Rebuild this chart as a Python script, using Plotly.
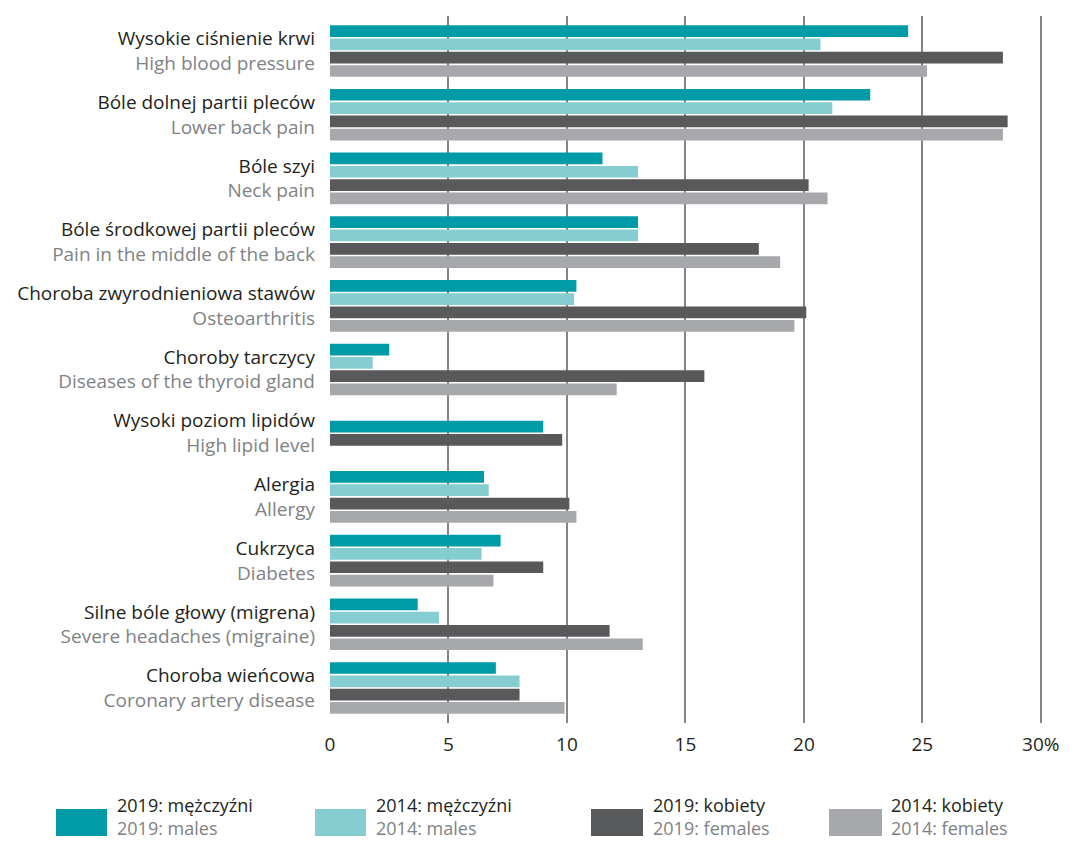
import plotly.graph_objects as go

cats_pl = ["Wysokie ciśnienie krwi", "Bóle dolnej partii pleców", "Bóle szyi",
           "Bóle środkowej partii pleców", "Choroba zwyrodnieniowa stawów",
           "Choroby tarczycy", "Wysoki poziom lipidów", "Alergia", "Cukrzyca",
           "Silne bóle głowy (migrena)", "Choroba wieńcowa"]
cats_en = ["High blood pressure", "Lower back pain", "Neck pain",
           "Pain in the middle of the back", "Osteoarthritis",
           "Diseases of the thyroid gland", "High lipid level", "Allergy",
           "Diabetes", "Severe headaches (migraine)", "Coronary artery disease"]

m2019 = [24.4, 22.8, 11.5, 13.0, 10.4, 2.5, 9.0, 6.5, 7.2, 3.7, 7.0]
m2014 = [20.7, 21.2, 13.0, 13.0, 10.3, 1.8, None, 6.7, 6.4, 4.6, 8.0]
f2019 = [28.4, 28.6, 20.2, 18.1, 20.1, 15.8, 9.8, 10.1, 9.0, 11.8, 8.0]
f2014 = [25.2, 28.4, 21.0, 19.0, 19.6, 12.1, None, 10.4, 6.9, 13.2, 9.9]

series_pl = ["2019: mężczyźni", "2014: mężczyźni", "2019: kobiety", "2014: kobiety"]
series_en = ["2019: males", "2014: males", "2019: females", "2014: females"]
colors = ["#009ba6", "#86cdd2", "#58595b", "#a7a8ab"]

x_ticks = [0, 5, 10, 15, 20, 25, 30]
x_ticktext = ["0", "5", "10", "15", "20", "25", "30%"]

DARK = "#231f20"
GREY = "#808285"
FONT = "Open Sans"
FS = 19

series = [m2019, m2014, f2019, f2014]
idx = list(range(len(cats_pl)))

SLOT = 0.209
BARW = 0.184

fig = go.Figure()
for s, vals in enumerate(series):
    ys, xs, offs = [], [], []
    for i in idx:
        present = [k for k in range(4) if series[k][i] is not None]
        if vals[i] is None:
            continue
        pos = present.index(s)
        n = len(present)
        offs.append((-n / 2 + pos) * SLOT + (SLOT - BARW) / 2)
        ys.append(i)
        xs.append(vals[i])
    fig.add_trace(go.Bar(
        x=xs, y=ys, orientation="h", marker=dict(color=colors[s], line=dict(width=0)),
        width=BARW, offset=offs, name=series_pl[s], showlegend=False,
    ))

ticktext = [f"<span style='color:{DARK}'>{p}</span><br><span style='color:{GREY}'>{e}</span>"
            for p, e in zip(cats_pl, cats_en)]

L, R, T, B = 330, 31, 16, 119
W, H = 1073, 842
pw, ph = W - L - R, H - T - B

def px(xp):
    return (xp - L) / pw

def py(yp):
    return (H - B - yp) / ph

fig.update_layout(
    width=W, height=H, barmode="overlay",
    margin=dict(l=L, r=R, t=T, b=B),
    paper_bgcolor="white", plot_bgcolor="white",
    font=dict(family=FONT, size=FS, color=DARK),
    xaxis=dict(range=[0, 30.05], tickvals=x_ticks, ticktext=x_ticktext,
               showgrid=True, gridcolor="#858585", gridwidth=1.6,
               zeroline=False, showline=False, ticks="",
               ticklabelstandoff=8,
               tickfont=dict(size=FS, color=DARK)),
    yaxis=dict(range=[10.55, -0.55], tickvals=idx, ticktext=ticktext,
               showgrid=False, zeroline=False, showline=False, ticks="",
               ticklabelstandoff=14, tickfont=dict(size=FS)),
)

leg_boxes = [(56, 107, 116), (315, 366, 375), (591, 643, 652), (829, 882, 890)]
for s, (x0, x1, xt) in enumerate(leg_boxes):
    fig.add_shape(type="rect", xref="paper", yref="paper",
                  x0=px(x0), x1=px(x1), y0=py(836), y1=py(809),
                  fillcolor=colors[s], line=dict(width=0))
    fig.add_annotation(xref="paper", yref="paper", x=px(xt), y=py(816),
                       xanchor="left", yanchor="middle", align="left", showarrow=False,
                       borderpad=0,
                       text=f"<span style='color:{DARK}'>{series_pl[s]}</span><br>"
                            f"<span style='color:{GREY}'>{series_en[s]}</span>",
                       font=dict(size=18, family=FONT))

fig.write_html("out.html", config={"displayModeBar": False},
               post_script="document.body.style.margin='0';document.body.style.overflow='hidden';")
